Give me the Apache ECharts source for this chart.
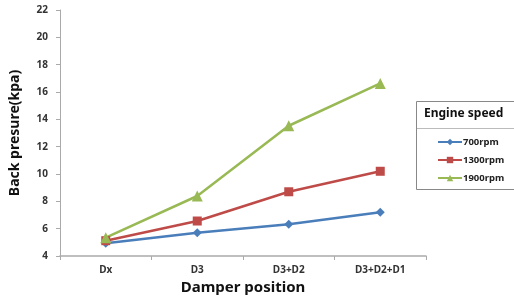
<!DOCTYPE html>
<html>
<head>
<meta charset="utf-8" />
<title>Back pressure</title>
<script src="https://cdn.jsdelivr.net/npm/echarts@6/dist/echarts.min.js"></script>
</head>
<body style="margin:0">
<div id="main" style="width: 514px;height:300px;"></div>
<script>
    var categories = ['Dx', 'D3', 'D3+D2', 'D3+D2+D1'];
    var rpm700 = [4.93, 5.7, 6.32, 7.2];
    var rpm1300 = [5.12, 6.56, 8.7, 10.2];
    var rpm1900 = [5.34, 8.39, 13.53, 16.63];
    var yTicks = { min: 4, max: 22, interval: 2 };

    var myChart = echarts.init(document.getElementById('main'));
    var fontFam = '"Noto Sans", "DejaVu Sans", sans-serif';

    function line(name, data, color, symbol, size) {
        return {
            name: name,
            type: 'line',
            data: data,
            symbol: symbol,
            symbolSize: size,
            lineStyle: { color: color, width: 2.5 },
            itemStyle: { color: color },
            animation: false
        };
    }

    var option = {
        textStyle: { fontFamily: fontFam },
        grid: { left: 58, right: 88, top: 10, bottom: 44 },
        xAxis: {
            type: 'category',
            data: categories,
            name: 'Damper position',
            nameLocation: 'middle',
            nameGap: 22,
            nameTextStyle: { fontSize: 15, fontWeight: 'bold', color: '#111' },
            axisLine: { lineStyle: { color: '#aaa', width: 1.5 } },
            axisTick: { show: true, alignWithLabel: false, length: 4, lineStyle: { color: '#aaa' } },
            axisLabel: { fontSize: 10, fontWeight: 'bold', color: '#333', margin: 9 }
        },
        yAxis: {
            type: 'value',
            min: yTicks.min,
            max: yTicks.max,
            interval: yTicks.interval,
            name: 'Back presure(kpa)',
            nameLocation: 'middle',
            nameGap: 38,
            nameTextStyle: { fontSize: 14, fontWeight: 'bold', color: '#111' },
            axisLine: { show: true, lineStyle: { color: '#aaa', width: 1 } },
            axisTick: { show: true, length: 4, lineStyle: { color: '#aaa' } },
            splitLine: { show: false },
            axisLabel: { fontSize: 10, fontWeight: 'bold', color: '#333', margin: 12 }
        },
        legend: {
            orient: 'vertical',
            left: 432,
            top: 132,
            itemWidth: 24,
            itemHeight: 8,
            itemGap: 8,
            textStyle: { fontSize: 9.5, fontWeight: 'bold', color: '#222', padding: [0, 0, 0, -4] },
            data: ['700rpm', '1300rpm', '1900rpm']
        },
        graphic: [
            {
                type: 'rect',
                shape: { x: 416.5, y: 101.5, width: 110, height: 88 },
                style: { fill: '#fff', stroke: '#888', lineWidth: 1 },
                z: -1
            },
            {
                type: 'line',
                shape: { x1: 417, y1: 128.5, x2: 514, y2: 128.5 },
                style: { stroke: '#bbb', lineWidth: 1 }
            },
            {
                type: 'text',
                left: 424,
                top: 108,
                style: { text: 'Engine speed', font: 'bold 12px ' + fontFam, fill: '#111' }
            }
        ],
        series: [
            line('700rpm', rpm700, '#4a7ebb', 'diamond', 9),
            line('1300rpm', rpm1300, '#be4b48', 'rect', 9),
            line('1900rpm', rpm1900, '#98b954', 'triangle', 11)
        ]
    };

    myChart.setOption(option);
</script>
</body>
</html>
